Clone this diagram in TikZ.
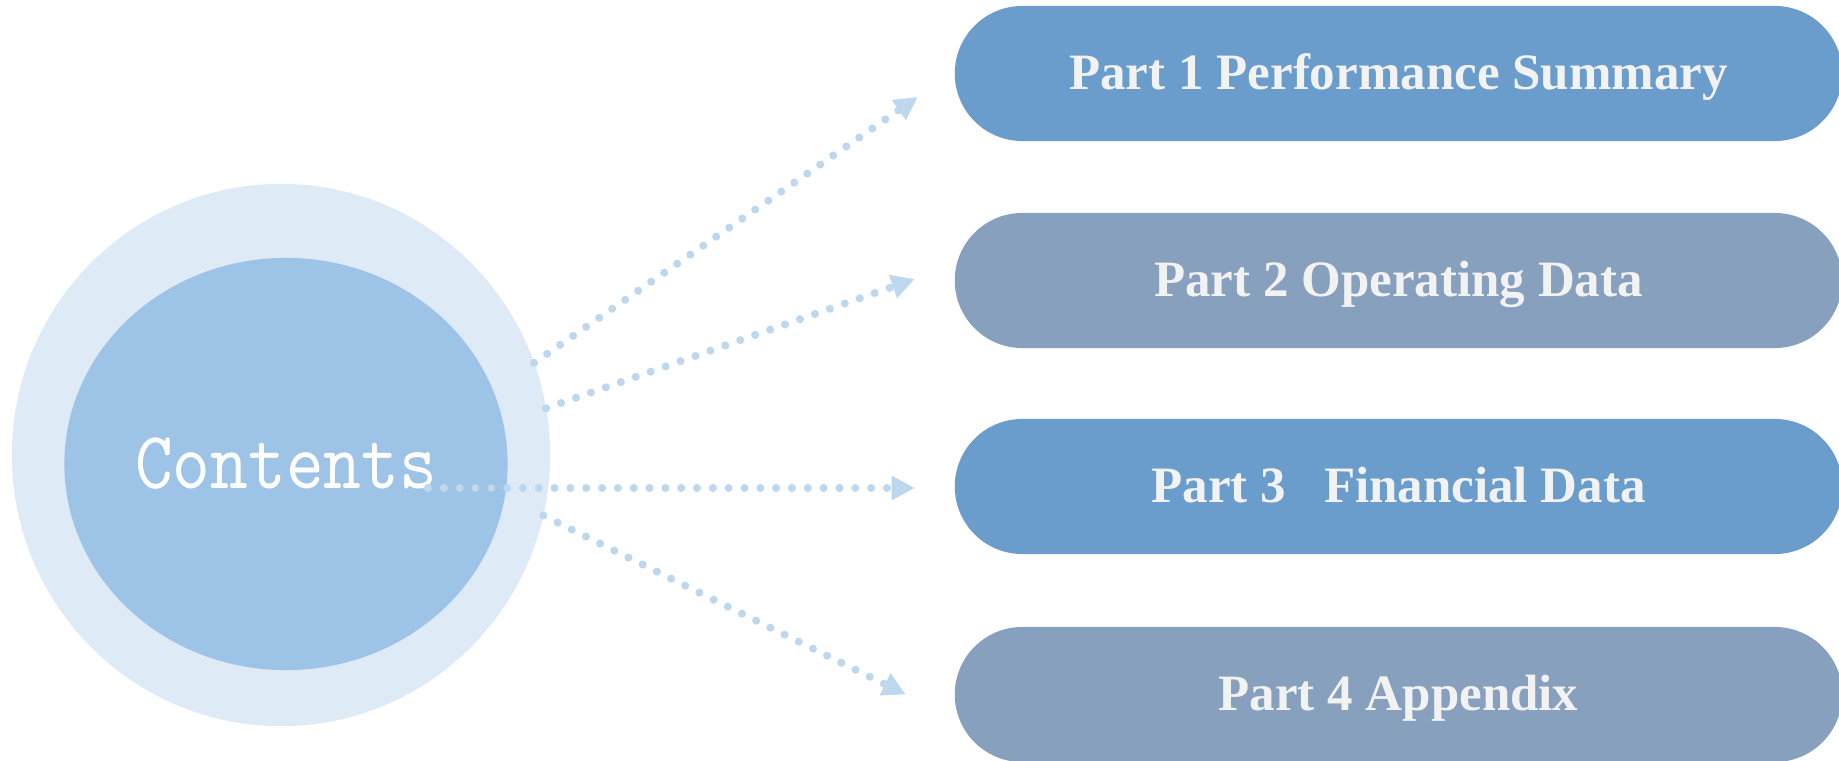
\documentclass[tikz,border=0pt]{standalone}
\usepackage{fontspec}
\setmainfont{Liberation Serif}
\newfontfamily\contentsfont[FakeStretch=0.88]{lmmono10-regular.otf}
\usetikzlibrary{shapes.geometric,arrows.meta}
\definecolor{ringblue}{HTML}{DEEAF6}
\definecolor{coreblue}{HTML}{9DC3E6}
\definecolor{partblue}{HTML}{6A9DCB}
\definecolor{partgrey}{HTML}{86A0BE}
\definecolor{dotblue}{HTML}{BDD7EE}
\definecolor{parttext}{HTML}{F2F2F2}

\begin{document}
\begin{tikzpicture}[x=0.01cm,y=-0.01cm,
    part/.style={rectangle,fill=#1,rounded corners=6.75mm,minimum width=\partwidth cm,minimum height=\partheight cm,
        inner sep=0,outer sep=0,text=parttext,text height=0.9em,text depth=0pt,
        font=\fontsize{14.5pt}{17pt}\selectfont\bfseries},
    pointer/.style={dotblue,line width=2.3pt,line cap=round,dash pattern=on 0pt off 4.5pt,
        -{Triangle[length=0.23cm,width=0.23cm]}}]
    \pgfmathsetmacro{\partwidth}{8.87}  % pills run off the right edge
    \pgfmathsetmacro{\partheight}{1.35}
    \useasboundingbox (0,0) rectangle (1839,761);
    \node[ellipse,fill=ringblue,minimum width=5.38cm,minimum height=5.42cm,inner sep=0,outer sep=0] (ring) at (281,455) {};
    \node[ellipse,fill=coreblue,minimum width=4.43cm,minimum height=4.12cm,inner sep=0,outer sep=0,
        text=white,font=\contentsfont\fontsize{23.2pt}{28pt}\selectfont] (core) at (286,464) {Contents};
    \node[part=partblue] (p1) at (1398.5,73.5) {Part 1 Performance Summary};
    \node[part=partgrey] (p2) at (1398.5,280.5) {Part 2 Operating Data};
    \node[part=partblue] (p3) at (1398.5,486.5) {Part 3~~~Financial Data};
    \node[part=partgrey] (p4) at (1398.5,694.5) {Part 4 Appendix};
    \coordinate (c3) at (428,488);
    \draw[pointer] (ring.20) -- ([xshift=-0.37cm,yshift=-0.235cm]p1.west);
    \draw[pointer] (ring.10) -- ([xshift=-0.40cm,yshift=0.015cm]p2.west);
    \draw[pointer] (c3) -- ([xshift=-0.40cm,yshift=-0.015cm]p3.west);
    \draw[pointer] (ring.-13) -- ([xshift=-0.49cm]p4.west);
\end{tikzpicture}
\end{document}
